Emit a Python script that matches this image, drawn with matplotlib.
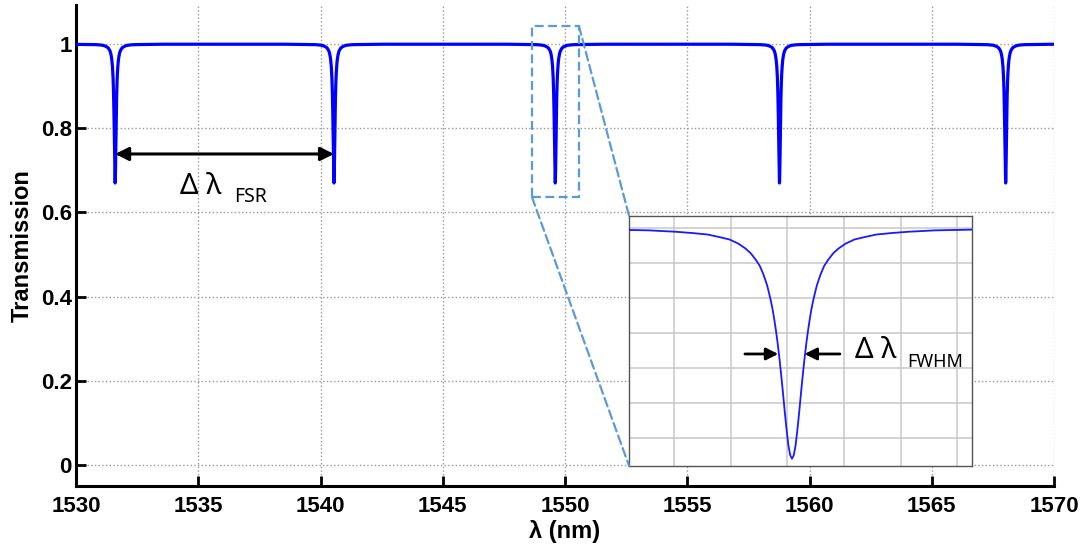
import numpy as np
import matplotlib.pyplot as plt
from matplotlib.patches import Rectangle, ConnectionPatch

# resonance wavelengths of the ring (nm)
resonances = [1531.6, 1540.55, 1549.6, 1558.77, 1568.02]

# one resonance dip: offset from the centre (nm) and transmission
dip_offset = [0, 0.006, 0.012, 0.018, 0.024, 0.030, 0.036, 0.042, 0.048, 0.054,
              0.060, 0.066, 0.072, 0.078, 0.084, 0.096, 0.108, 0.120, 0.138, 0.156,
              0.180, 0.210, 0.240, 0.282, 0.330, 0.390, 0.480, 0.600, 0.780, 2.000]
dip_trans = [0.670, 0.675, 0.689, 0.711, 0.736, 0.763, 0.789, 0.813, 0.835, 0.854,
             0.871, 0.886, 0.898, 0.909, 0.919, 0.934, 0.946, 0.954, 0.964, 0.971,
             0.978, 0.984, 0.987, 0.991, 0.993, 0.995, 0.997, 0.998, 0.9988, 0.9998]

x_ticks = [1530, 1535, 1540, 1545, 1550, 1555, 1560, 1565, 1570]
y_ticks = [0, 0.2, 0.4, 0.6, 0.8, 1]
y_ticklabels = ['0', '0.2', '0.4', '0.6', '0.8', '1']

# both sides of the dip
off = np.concatenate([-np.array(dip_offset[::-1]), np.array(dip_offset[1:])])
tr = np.concatenate([np.array(dip_trans[::-1]), np.array(dip_trans[1:])])

lam = np.concatenate([r + off for r in resonances])
T = np.concatenate([tr for r in resonances])

plt.rcParams['font.family'] = ['Liberation Sans', 'DejaVu Sans']
note_font = ['Noto Sans', 'DejaVu Sans']

fig = plt.figure(figsize=(10.89, 5.44), dpi=100)
ax = fig.add_axes([0.0698, 0.1066, 0.8981, 0.8842])

ax.plot(lam, T, color='#0000ff', lw=2.3, zorder=3)
ax.set_xlim(1530, 1570)
ax.set_ylim(-0.05, 1.093)
ax.set_xticks(x_ticks)
ax.set_yticks(y_ticks)
ax.set_yticklabels(y_ticklabels)
ax.grid(True, linestyle=':', color='#999999', lw=1.0)
for s in ['top', 'right']:
    ax.spines[s].set_visible(False)
for s in ['left', 'bottom']:
    ax.spines[s].set_linewidth(2.2)
ax.tick_params(direction='in', length=7, width=2, labelsize=16)
ax.tick_params(axis='x', pad=7)
ax.tick_params(axis='y', pad=3)
for lbl in ax.get_xticklabels() + ax.get_yticklabels():
    lbl.set_fontweight('bold')
ax.set_xlabel('λ (nm)', fontsize=17, fontweight='bold', labelpad=2)
ax.set_ylabel('Transmission', fontsize=17, fontweight='bold', labelpad=5)

# free spectral range arrow between the first two dips
ax.annotate('', xy=(resonances[1], 0.739), xytext=(resonances[0], 0.739),
            arrowprops=dict(arrowstyle='<|-|>', color='black', lw=2.2,
                            mutation_scale=20, shrinkA=0, shrinkB=0))
ax.text(1534.25, 0.644, 'Δ λ', fontsize=21, family=note_font, va='baseline')
ax.text(1536.45, 0.625, 'FSR', fontsize=14, family=note_font, va='baseline')

# zoom box around the middle resonance
box_c = '#5b9bd5'
ax.add_patch(Rectangle((1548.65, 0.636), 1.92, 0.407, fill=False, ec=box_c,
                       lw=1.6, ls=(0, (4, 2)), zorder=4))

# inset with the close-up of one dip
ax_in = fig.add_axes([0.5776, 0.1439, 0.3152, 0.4596])
c = resonances[2]
ax_in.plot(c + off, tr, color='#1a1aff', lw=1.3, zorder=3)
ax_in.set_xlim(c - 0.547, c + 0.605)
ax_in.set_ylim(0.66, 1.018)
ax_in.set_xticks(np.arange(c - 0.3954, c + 0.6, 0.19))
ax_in.set_yticks(np.arange(0.70, 1.001, 0.05))
ax_in.grid(True, color='#c8c8c8', lw=1.1)
ax_in.tick_params(length=0, labelbottom=False, labelleft=False)
for s in ax_in.spines.values():
    s.set_color('#555555')
    s.set_linewidth(1.0)

# FWHM arrows pointing at the dip flanks
ax_in.annotate('', xy=(c - 0.046, 0.82), xytext=(c - 0.158, 0.82),
               arrowprops=dict(arrowstyle='-|>', color='black', lw=2,
                               mutation_scale=18, shrinkA=0, shrinkB=0))
ax_in.annotate('', xy=(c + 0.042, 0.82), xytext=(c + 0.161, 0.82),
               arrowprops=dict(arrowstyle='-|>', color='black', lw=2,
                               mutation_scale=18, shrinkA=0, shrinkB=0))
ax_in.text(c + 0.212, 0.814, 'Δ λ', fontsize=21, family=note_font, va='baseline')
ax_in.text(c + 0.388, 0.802, 'FWHM', fontsize=13, family=note_font, va='baseline')

# dashed lines from the zoom box to the inset
for xy_a, xy_b in [((1550.57, 1.043), (0, 1)), ((1548.65, 0.636), (0, 0))]:
    con = ConnectionPatch(xyA=xy_a, coordsA=ax.transData, xyB=xy_b, coordsB=ax_in.transAxes,
                          color=box_c, lw=1.6, ls=(0, (4, 2)))
    fig.add_artist(con)

plt.savefig('out.png', dpi=100)
